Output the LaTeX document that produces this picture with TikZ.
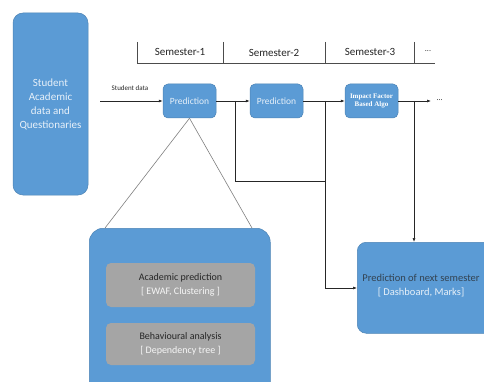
\documentclass[tikz,border=0pt]{standalone}
\usepackage{fontspec}
\setmainfont{Carlito}
\newfontfamily\serifbold{Liberation Serif}
\usetikzlibrary{arrows.meta}
\definecolor{boxblue}{HTML}{5B9BD5}
\definecolor{boxgrey}{HTML}{A5A5A5}
\definecolor{darktext}{HTML}{262626}
\tikzset{
  bluebox/.style={draw=boxblue!85!black, line width=0.5pt, fill=boxblue, rounded corners=7pt, text=white!85!boxblue},
  greybox/.style={fill=boxgrey, rounded corners=5pt, inner sep=0pt},
  flow/.style={draw=black!85, line width=0.6pt},
  arr/.style={flow, -{Latex[length=4pt,width=3pt]}},
  zoomline/.style={draw=black!50, line width=0.6pt},
}
\begin{document}
\begin{tikzpicture}[x=1pt,y=-1pt]
\clip (0,0) rectangle (484,382);
\fill[white] (0,0) rectangle (484,382);

% input box
\node[bluebox, minimum width=75pt, minimum height=182pt, rounded corners=10pt, align=center, font=\fontsize{11}{14}\selectfont] (input) at (50.5,104) {Student\\Academic\\data and\\Questionaries};

% semester timeline
\coordinate (t0) at (137,42);
\coordinate (t0b) at (137,63);
\coordinate (tend) at (435,63);
\draw[flow, black!70] (t0) -- (t0b) -- (tend);
\foreach \x in {223,325,414} \draw[flow, black!70] (\x,42) -- (\x,63);
\node[font=\fontsize{11}{13}\selectfont, text=darktext] (s1) at (180,52) {Semester-1};
\node[font=\fontsize{11}{13}\selectfont, text=darktext] (s2) at (274,53) {Semester-2};
\node[font=\fontsize{11}{13}\selectfont, text=darktext] (s3) at (370,52) {Semester-3};
\node[font=\fontsize{8}{10}\selectfont, text=darktext] (sdots) at (428,51) {...};

% stage boxes
\node[bluebox, minimum width=53pt, minimum height=34pt, rounded corners=5pt, font=\fontsize{9.5}{11}\selectfont] (p1) at (189.5,101) {Prediction};
\node[bluebox, minimum width=53pt, minimum height=34pt, rounded corners=5pt, font=\fontsize{9.5}{11}\selectfont] (p2) at (276.5,101) {Prediction};
\node[bluebox, minimum width=53pt, minimum height=34pt, rounded corners=5pt, align=center, font=\serifbold\bfseries\fontsize{7}{8.5}\selectfont, text=white] (p3) at (371.5,101) {Impact Factor\\Based Algo};

% main data flow
\coordinate (start) at (100,101);
\node[font=\fontsize{7}{9}\selectfont, text=darktext] (sdlabel) at (130,88) {Student data};
\coordinate (end) at (431,101);
\node[font=\fontsize{8}{10}\selectfont, text=darktext, anchor=west] (edots) at (433,100) {...};
\draw[arr] (start) -- (p1.west);
\draw[arr] (p1.east) -- (p2.west);
\draw[arr] (p2.east) -- (p3.west);
\draw[arr] (p3.east) -- (end);

% output box
\node[bluebox, minimum width=140pt, minimum height=91pt, rounded corners=9pt, anchor=north west] (out) at (357,242) {};
\node[align=center, font=\fontsize{10.5}{14}\selectfont, text=white!85!boxblue] (outtext) at (421,286) {\textcolor{darktext!75!boxblue}{Prediction of next semester}\\{[} Dashboard, Marks{]}};

% feedback routes to output
\coordinate (j1) at (235,101);
\coordinate (j2) at (325,101);
\coordinate (j3) at (414,101);
\draw[flow] (j1) -- (235,181) -- (325,181);
\draw[arr] (j2) |- (out.west |- 0,288);
\draw[arr] (j3) -- (414,242);

% detail of the first prediction
\node[bluebox, minimum width=181pt, minimum height=170pt, rounded corners=14pt, anchor=north west] (detail) at (89,228) {};
\draw[zoomline] (p1.south) -- (105,228);
\draw[zoomline] (p1.south) -- (252,228);
\node[greybox, minimum width=149pt, minimum height=44pt, align=center, font=\fontsize{10}{14.5}\selectfont] (acad) at (180.5,285) {\textcolor{darktext}{Academic prediction}\\\textcolor{white!90!boxgrey}{[ EWAF, Clustering ]}};
\node[greybox, minimum width=149pt, minimum height=42pt, align=center, font=\fontsize{10}{14.5}\selectfont] (behav) at (180.5,344) {\textcolor{darktext}{Behavioural analysis}\\\textcolor{white!90!boxgrey}{[ Dependency tree ]}};
\end{tikzpicture}
\end{document}
